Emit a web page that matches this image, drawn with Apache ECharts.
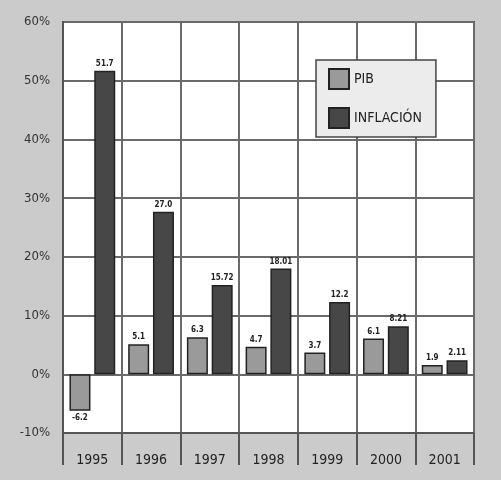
<!DOCTYPE html>
<html><head><meta charset="utf-8">
<script src="https://cdn.jsdelivr.net/npm/echarts@6/dist/echarts.min.js"></script>
<style>html,body{margin:0;padding:0;background:#cbcbcb}#c{width:501px;height:480px}</style>
</head><body><div id="c"></div>
<script>
const years = ['1995','1996','1997','1998','1999','2000','2001'];
const pib = [-6.2, 5.1, 6.3, 4.7, 3.7, 6.1, 1.6];
const inflacion = [51.7, 27.7, 15.2, 18.0, 12.3, 8.2, 2.4];
const pibLabels = ['-6.2','5.1','6.3','4.7','3.7','6.1','1.9'];
const infLabels = ['51.7','27.0','15.72','18.01','12.2','8.21','2.11'];
const yTicks = {min: -10, max: 60, interval: 10};

const font = '"DejaVu Sans Condensed", "Liberation Sans Narrow", sans-serif';
const chart = echarts.init(document.getElementById('c'), null, {renderer: 'canvas'});
const lbl = {show: true, distance: 3, fontFamily: font, fontSize: 8, fontWeight: 'bold', color: '#222'};
chart.setOption({
  backgroundColor: '#cbcbcb',
  animation: false,
  grid: {left: 63, right: 27, top: 22, bottom: 47, show: true, backgroundColor: '#ffffff', borderColor: '#555', borderWidth: 2},
  legend: {
    orient: 'vertical', left: 316, top: 60, padding: [8, 14, 8, 12],
    backgroundColor: '#ececec', borderColor: '#444', borderWidth: 1.5,
    itemWidth: 20, itemHeight: 20, itemGap: 17,
    textStyle: {fontFamily: font, fontSize: 14, color: '#222'},
    data: [{name: 'PIB', icon: 'rect'}, {name: 'INFLACIÓN', icon: 'rect'}]
  },
  xAxis: {
    type: 'category', data: years,
    axisLine: {onZero: false, lineStyle: {color: '#555', width: 2}},
    axisTick: {show: true, length: 32, lineStyle: {color: '#555', width: 2}},
    splitLine: {show: true, interval: 0, lineStyle: {color: '#6a6a6a', width: 2}},
    axisLabel: {fontFamily: font, fontSize: 14, color: '#222', margin: 20}
  },
  yAxis: {
    type: 'value', min: yTicks.min, max: yTicks.max, interval: yTicks.interval,
    axisLine: {show: true, lineStyle: {color: '#555', width: 2}},
    axisTick: {show: false},
    splitLine: {lineStyle: {color: '#6a6a6a', width: 2}},
    axisLabel: {fontFamily: font, fontSize: 13, color: '#333', margin: 13, formatter: '{value}%'}
  },
  series: [
    {name: 'PIB', type: 'bar', barWidth: 21, barGap: '18%',
     data: pib.map((v, i) => ({value: v, label: {position: v < 0 ? 'bottom' : 'top'}})),
     itemStyle: {color: '#9a9a9a', borderColor: '#222', borderWidth: 1.5},
     label: Object.assign({}, lbl, {formatter: p => pibLabels[p.dataIndex]})
    },
    {name: 'INFLACIÓN', type: 'bar', data: inflacion, barWidth: 21,
     itemStyle: {color: '#474747', borderColor: '#222', borderWidth: 1.5},
     label: Object.assign({}, lbl, {position: 'top', formatter: p => infLabels[p.dataIndex]})
    }
  ]
});
</script></body></html>
